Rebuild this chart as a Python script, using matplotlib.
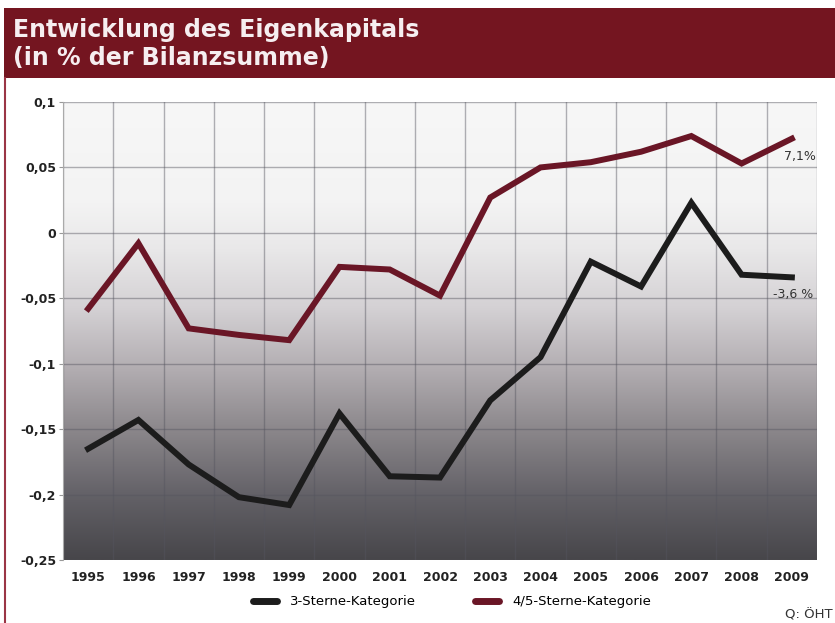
import matplotlib
matplotlib.use('Agg')
import matplotlib.pyplot as plt
import numpy as np
from matplotlib.colors import LinearSegmentedColormap
from matplotlib.lines import Line2D
from matplotlib.patches import Rectangle

years = ['1995', '1996', '1997', '1998', '1999', '2000', '2001', '2002',
         '2003', '2004', '2005', '2006', '2007', '2008', '2009']
sterne_3 = [-0.165, -0.143, -0.177, -0.202, -0.208, -0.138, -0.186, -0.187,
            -0.128, -0.095, -0.022, -0.041, 0.023, -0.032, -0.034]
sterne_45 = [-0.058, -0.008, -0.073, -0.078, -0.082, -0.026, -0.028, -0.048,
             0.027, 0.050, 0.054, 0.062, 0.074, 0.053, 0.072]
y_ticks = [0.1, 0.05, 0, -0.05, -0.1, -0.15, -0.2, -0.25]
y_labels = ['0,1', '0,05', '0', '-0,05', '-0,1', '-0,15', '-0,2', '-0,25']
series_names = ['3-Sterne-Kategorie', '4/5-Sterne-Kategorie']
end_labels = ['-3,6 %', '7,1%']

W, H = 835, 623
fig = plt.figure(figsize=(W / 100, H / 100), dpi=100)
fig.patch.set_facecolor('white')

# title band + left border
fig.patches.append(Rectangle((4 / W, 1 - 78 / H), 1, 70 / H, transform=fig.transFigure,
                             facecolor='#741520', edgecolor='none', zorder=0))
fig.add_artist(Line2D([5 / W, 5 / W], [0, 1 - 78 / H], transform=fig.transFigure,
                      color='#9a3545', linewidth=1.5))
fig.text(13 / W, 1 - 30 / H, 'Entwicklung des Eigenkapitals', color='#f6eef0',
         fontsize=17, fontweight='bold', va='center', ha='left')
fig.text(13 / W, 1 - 58 / H, '(in % der Bilanzsumme)', color='#f6eef0',
         fontsize=17, fontweight='bold', va='center', ha='left')

ax = fig.add_axes([63 / W, (H - 560) / H, 754 / W, 458 / H])
x = np.arange(len(years))

# grey gradient background
cmap = LinearSegmentedColormap.from_list('bg', [
    (0.0, '#f7f7f7'), (0.22, '#f3f3f3'), (0.32, '#e9e8e9'), (0.45, '#d4d1d4'),
    (0.58, '#b3aeb2'), (0.72, '#8a868a'), (0.86, '#636167'), (1.0, '#47464a')])
grad = np.linspace(0, 1, 256).reshape(-1, 1)
ax.imshow(grad, cmap=cmap, aspect='auto', extent=[0, 1, 0, 1],
          transform=ax.transAxes, zorder=0)

ax.plot(x, sterne_3, color='#1c1c1c', linewidth=4.3, solid_joinstyle='miter',
        label=series_names[0], zorder=3)
ax.plot(x, sterne_45, color='#6a1626', linewidth=4.3, solid_joinstyle='miter',
        label=series_names[1], zorder=3)

ax.annotate(end_labels[1], (14.5, sterne_45[-1]), xytext=(-1, -13),
            textcoords='offset points', ha='right', va='center',
            fontsize=9, color='#333333')
ax.annotate(end_labels[0], (14.5, sterne_3[-1]), xytext=(-3, -12),
            textcoords='offset points', ha='right', va='center',
            fontsize=9, color='#333333')

ax.set_xlim(-0.5, len(years) - 0.5)
ax.set_ylim(-0.25, 0.1)
ax.set_xticks(x)
ax.set_xticklabels(years, fontsize=9, fontweight='bold', color='#222222')
ax.set_xticks(np.arange(-0.5, len(years), 1), minor=True)
ax.set_yticks(y_ticks)
ax.set_yticklabels(y_labels, fontsize=9, fontweight='bold', color='#222222')
ax.tick_params(axis='x', which='major', length=0, pad=8)
ax.tick_params(axis='x', which='minor', length=0)
ax.tick_params(axis='y', length=3, color='#999999', pad=2)
ax.grid(True, axis='x', which='minor', color='#55555f', alpha=0.45, linewidth=1)
ax.grid(True, axis='y', which='major', color='#55555f', alpha=0.45, linewidth=1)
ax.grid(False, axis='x', which='major')
for s in ax.spines.values():
    s.set_visible(False)
ax.spines['left'].set_visible(True)
ax.spines['left'].set_color('#aaaaaa')

handles = [Line2D([0], [0], color='#1c1c1c', linewidth=5, solid_capstyle='round'),
           Line2D([0], [0], color='#6a1626', linewidth=5, solid_capstyle='round')]
fig.legend(handles, series_names, loc='center', bbox_to_anchor=(452 / W, 1 - 602 / H),
           ncol=2, frameon=False, fontsize=9.5, handlelength=1.8, columnspacing=4.5,
           handletextpad=1.0)

fig.text(785 / W, 1 - 615 / H, 'Q: ÖHT', fontsize=9.5, color='#333333',
         ha='left', va='center')

fig.savefig('out.png', dpi=100)
